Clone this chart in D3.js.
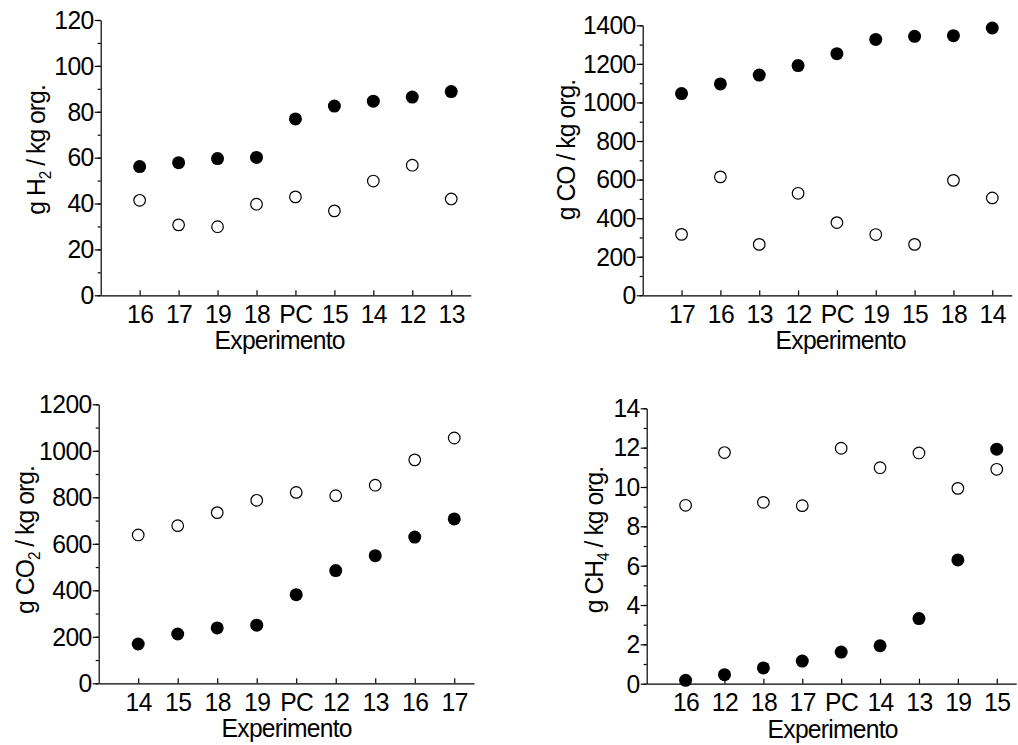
<!DOCTYPE html>
<html>
<head>
<meta charset="utf-8">
<script src="https://cdn.jsdelivr.net/npm/d3@7"></script>
<style>
  body { margin: 0; background: #fff; }
  svg text { font-family: "Liberation Sans", Arial, sans-serif; fill: #000; }
</style>
</head>
<body>
<script>
// category order per panel (x axis)
var h2Cats = ['16', '17', '19', '18', 'PC', '15', '14', '12', '13'];
var coCats = ['17', '16', '13', '12', 'PC', '19', '15', '18', '14'];
var co2Cats = ['14', '15', '18', '19', 'PC', '12', '13', '16', '17'];
var ch4Cats = ['16', '12', '18', '17', 'PC', '14', '13', '19', '15'];

// filled circles
var h2Filled = [56.1, 57.8, 59.6, 60.1, 76.9, 82.5, 84.6, 86.4, 88.8];
var coFilled = [1046, 1096, 1142, 1191, 1253, 1327, 1343, 1346, 1386];
var co2Filled = [169, 212, 238, 250, 381, 485, 549, 629, 707];
var ch4Filled = [0.17, 0.46, 0.80, 1.15, 1.61, 1.93, 3.31, 6.29, 11.92];

// open circles
var h2Open = [41.4, 30.7, 29.9, 39.7, 42.9, 36.8, 49.8, 56.7, 42.0];
var coOpen = [316, 614, 264, 529, 377, 315, 264, 596, 505];
var co2Open = [638, 678, 734, 787, 821, 807, 852, 961, 1055];
var ch4Open = [9.07, 11.75, 9.22, 9.05, 11.97, 10.98, 11.73, 9.93, 10.9];

var h2Ticks = [0, 20, 40, 60, 80, 100, 120];
var coTicks = [0, 200, 400, 600, 800, 1000, 1200, 1400];
var co2Ticks = [0, 200, 400, 600, 800, 1000, 1200];
var ch4Ticks = [0, 2, 4, 6, 8, 10, 12, 14];

var W = 1018, H = 745;
var FS = '26px', SX = 0.95, SQ = 'scale(' + SX + ',1)';   // font looks a bit condensed in the original

var svg = d3.select('body').append('svg')
    .attr('width', W)
    .attr('height', H);

var panels = [
    {cats: h2Cats, filled: h2Filled, open: h2Open, ticks: h2Ticks, minor: 10, sub: 'H', subN: '2',
     left: 100.7, right: 470.7, top: 20, bottom: 295.3, ylabX: 45, ylabY: 150, xlabDx: 179},
    {cats: coCats, filled: coFilled, open: coOpen, ticks: coTicks, minor: 100, sub: 'CO', subN: '',
     left: 642.7, right: 1011.7, top: 25.3, bottom: 295.3, ylabX: 575, ylabY: 150, xlabDx: 198},
    {cats: co2Cats, filled: co2Filled, open: co2Open, ticks: co2Ticks, minor: 100, sub: 'CO', subN: '2',
     left: 98.7, right: 474, top: 404.3, bottom: 683.3, ylabX: 34, ylabY: 540, xlabDx: 188},
    {cats: ch4Cats, filled: ch4Filled, open: ch4Open, ticks: ch4Ticks, minor: 1, sub: 'CH', subN: '4',
     left: 646.7, right: 1016.2, top: 408.3, bottom: 683.7, ylabX: 603, ylabY: 540, xlabDx: 186}
];

panels.forEach(function (p) {
    var ymax = p.ticks[p.ticks.length - 1];
    var x = d3.scaleLinear().domain([0, 9.5]).range([p.left, p.right]);
    var y = d3.scaleLinear().domain([0, ymax]).range([p.bottom, p.top]);
    var g = svg.append('g');

    // minor ticks
    var minorVals = d3.range(0, ymax + p.minor / 2, p.minor);
    g.append('g')
        .attr('transform', 'translate(' + p.left + ',0)')
        .call(d3.axisLeft(y).tickValues(minorVals).tickSize(3).tickSizeOuter(0).tickFormat(''))
        .call(function (a) { a.select('.domain').remove(); });

    // y axis
    var ya = g.append('g')
        .attr('transform', 'translate(' + p.left + ',0)')
        .call(d3.axisLeft(y).tickValues(p.ticks).tickSize(6).tickSizeOuter(0).tickPadding(2)
            .tickFormat(function (d) { return String(d); }));
    ya.selectAll('text')
        .attr('x', -7 / SX)
        .attr('transform', SQ)
        .style('font-size', FS)
        .style('letter-spacing', '-0.6px');

    // x axis
    var xa = g.append('g')
        .attr('transform', 'translate(0,' + p.bottom + ')')
        .call(d3.axisBottom(x).tickValues(d3.range(1, 10)).tickSize(-5).tickSizeOuter(0).tickPadding(9)
            .tickFormat(function (d) { return p.cats[d - 1]; }));
    xa.selectAll('text')
        .attr('transform', SQ)
        .style('font-size', FS)
        .style('letter-spacing', '-0.6px');

    svg.selectAll('.domain, .tick line').attr('stroke', '#000').attr('stroke-width', 1.2);

    // x label
    g.append('text')
        .attr('transform', 'translate(' + (p.left + p.xlabDx) + ',' + (p.bottom + 54) + ') ' + SQ)
        .attr('text-anchor', 'middle')
        .style('font-size', FS)
        .style('letter-spacing', '-0.8px')
        .text('Experimento');

    // y label
    var yl = g.append('text')
        .attr('transform', 'translate(' + p.ylabX + ',' + p.ylabY + ') rotate(-90) ' + SQ)
        .attr('text-anchor', 'middle')
        .style('font-size', FS)
        .style('letter-spacing', '-1px');
    yl.append('tspan').text('g ' + p.sub);
    if (p.subN) {
        yl.append('tspan').attr('dy', 6).style('font-size', '16px').text(p.subN);
        yl.append('tspan').attr('dy', -6).text(' / kg org.');
    } else {
        yl.append('tspan').text(' / kg org.');
    }

    // points
    g.selectAll('circle.open')
        .data(p.open)
        .enter().append('circle')
        .attr('class', 'open')
        .attr('cx', function (d, i) { return x(i + 1); })
        .attr('cy', function (d) { return y(d); })
        .attr('r', 5.8)
        .attr('fill', '#fff')
        .attr('stroke', '#000')
        .attr('stroke-width', 1.2);

    g.selectAll('circle.filled')
        .data(p.filled)
        .enter().append('circle')
        .attr('class', 'filled')
        .attr('cx', function (d, i) { return x(i + 1); })
        .attr('cy', function (d) { return y(d); })
        .attr('r', 6.5)
        .attr('fill', '#000');
});
</script>
</body>
</html>
